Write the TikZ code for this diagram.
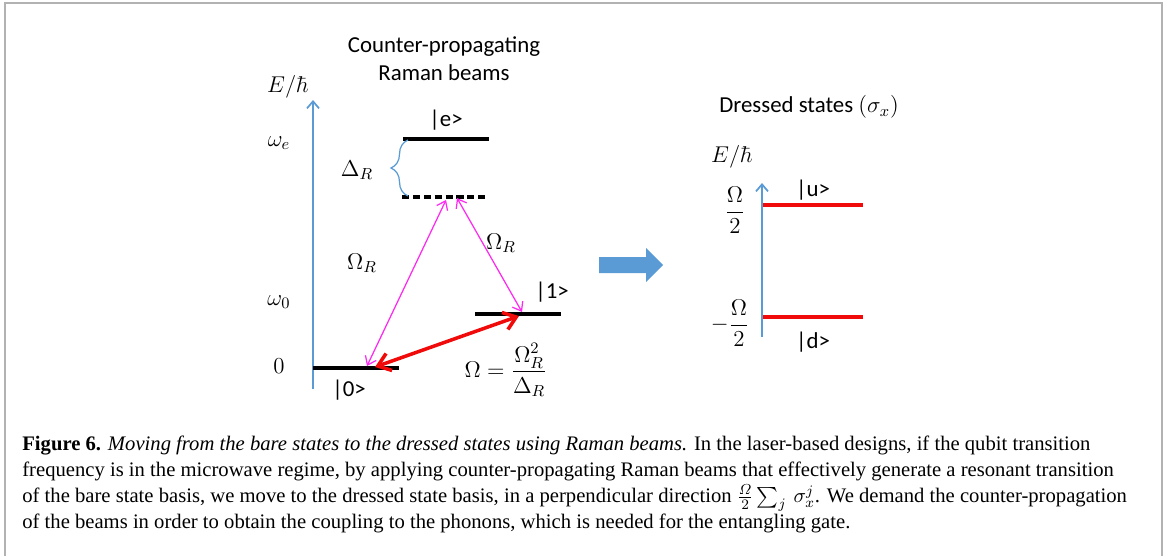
\documentclass[tikz,border=0pt]{standalone}
\usepackage{fix-cm}
\usepackage{amsmath,amssymb}
\usepackage{fontspec}
\newfontfamily\calibri{Carlito}
\newfontfamily\capfont{Liberation Serif}
\usetikzlibrary{arrows.meta, positioning, calc, decorations.pathreplacing}
\definecolor{axisblue}{RGB}{91,155,213}
\definecolor{ramanpink}{RGB}{255,40,240}
\definecolor{levelred}{RGB}{240,10,10}
\tikzset{
    lvl/.style={line width=1.8pt, draw=black},
    dashlvl/.style={lvl, dash pattern=on 4pt off 2.2pt},
    dressedlvl/.style={line width=1.8pt, draw=levelred},
    eaxis/.style={-{Straight Barb[length=1.4mm,width=2.4mm]}, line width=1pt, draw=axisblue},
    ramanarrow/.style={{Straight Barb[length=1.6mm,width=2.4mm]}-{Straight Barb[length=1.6mm,width=2.4mm]}, line width=0.7pt, draw=ramanpink},
    effarrow/.style={{Straight Barb[length=2.4mm,width=3.6mm]}-{Straight Barb[length=2.4mm,width=3.6mm]}, line width=2pt, draw=levelred},
    sanslbl/.style={font=\calibri\fontsize{13}{16}\selectfont, inner sep=1pt},
    mathlbl/.style={font=\fontsize{13}{16}\selectfont, inner sep=1pt}
}

\begin{document}
\begin{tikzpicture}
    \useasboundingbox (0,0) rectangle (23.3,11.1);
    \draw[gray!60, line width=0.8pt] (0.1,-0.1) -- (0.1,11.04) -- (23.24,11.04) -- (23.24,-0.1);

    % Bare states
    \node[sanslbl, align=center] (title) at (8.88,9.92) {Counter-propagating\\Raman beams};
    \coordinate (ax0) at (6.26,3.32);
    \coordinate (ax1) at (6.26,9.10);
    \draw[eaxis] (ax0) -- (ax1);
    \node[mathlbl] (energy) at (5.76,9.36) {$E/\hbar$};
    \node[mathlbl] (we) at (5.58,8.24) {$\omega_e$};
    \node[mathlbl] (w0) at (5.58,5.06) {$\omega_0$};
    \node[mathlbl] (zero) at (5.58,3.78) {$0$};

    \coordinate (e0) at (8.06,8.32);
    \coordinate (e1) at (9.78,8.32);
    \coordinate (v0) at (8.04,7.16);
    \coordinate (v1) at (9.76,7.16);
    \coordinate (g0) at (6.26,3.74);
    \coordinate (g1) at (7.98,3.74);
    \coordinate (q0) at (9.50,4.82);
    \coordinate (q1) at (11.22,4.82);
    \draw[lvl] (e0) -- (e1);
    \draw[dashlvl] (v0) -- (v1);
    \draw[lvl] (g0) -- (g1);
    \draw[lvl] (q0) -- (q1);
    \node[sanslbl] (ket e) at (8.92,8.70) {|e>};
    \node[sanslbl] (ket 1) at (11.04,5.26) {|1>};
    \node[sanslbl] (ket 0) at (6.98,3.30) {|0>};

    % Detuning
    \draw[axisblue, line width=0.7pt, decorate, decoration={brace, amplitude=0.34cm}] (8.16,7.18) -- (8.16,8.30);
    \node[mathlbl] (detuning) at (7.14,7.70) {$\Delta_R$};

    % Raman transitions
    \coordinate (p0) at (7.34,3.78);
    \coordinate (p1) at (8.92,7.10);
    \coordinate (p2) at (9.14,7.14);
    \coordinate (p3) at (10.44,4.86);
    \draw[ramanarrow] (p0) -- (p1);
    \draw[ramanarrow] (p2) -- (p3);
    \node[mathlbl] (rabi left) at (7.24,5.84) {$\Omega_R$};
    \node[mathlbl] (rabi right) at (10.02,6.24) {$\Omega_R$};
    \coordinate (r0) at (7.50,3.76);
    \coordinate (r1) at (10.38,4.78);
    \draw[effarrow] (r0) -- (r1);
    \node[mathlbl] (rabi eff) at (10.12,3.70) {$\Omega = \dfrac{\Omega_R^2}{\Delta_R}$};

    % Move to dressed basis
    \fill[axisblue] (11.98,5.96) -- (12.92,5.96) -- (12.92,6.14) -- (13.26,5.80)
        -- (12.92,5.46) -- (12.92,5.64) -- (11.98,5.64) -- cycle;

    % Dressed states
    \node[sanslbl] (dressed) at (16.18,8.96) {Dressed states $(\sigma_x)$};
    \node[mathlbl] (energy2) at (14.64,7.96) {$E/\hbar$};
    \coordinate (bx0) at (15.24,4.36);
    \coordinate (bx1) at (15.24,7.44);
    \draw[eaxis] (bx0) -- (bx1);
    \coordinate (u0) at (15.26,7.00);
    \coordinate (u1) at (17.26,7.00);
    \coordinate (d0) at (15.26,4.76);
    \coordinate (d1) at (17.26,4.76);
    \draw[dressedlvl] (u0) -- (u1);
    \draw[dressedlvl] (d0) -- (d1);
    \node[sanslbl] (ket u) at (16.26,7.30) {|u>};
    \node[sanslbl] (ket d) at (16.26,4.26) {|d>};
    \node[mathlbl] (up) at (14.70,6.90) {$\dfrac{\Omega}{2}$};
    \node[mathlbl] (down) at (14.60,4.64) {$-\dfrac{\Omega}{2}$};

    % Caption
    \node[anchor=north west, inner sep=0pt, align=left, font=\capfont\fontsize{11.75}{14.75}\selectfont] (caption) at (0.44,2.38)
        {\textbf{Figure 6.} \textit{Moving from the bare states to the dressed states using Raman beams.} In the laser-based designs, if the qubit transition\\
        frequency is in the microwave regime, by applying counter-propagating Raman beams that effectively generate a resonant transition\\
        of the bare state basis, we move to the dressed state basis, in a perpendicular direction $\frac{\varOmega}{2}\sum_j\,\sigma_x^j$. We demand the counter-propagation\\
        of the beams in order to obtain the coupling to the phonons, which is needed for the entangling gate.};
\end{tikzpicture}
\end{document}
